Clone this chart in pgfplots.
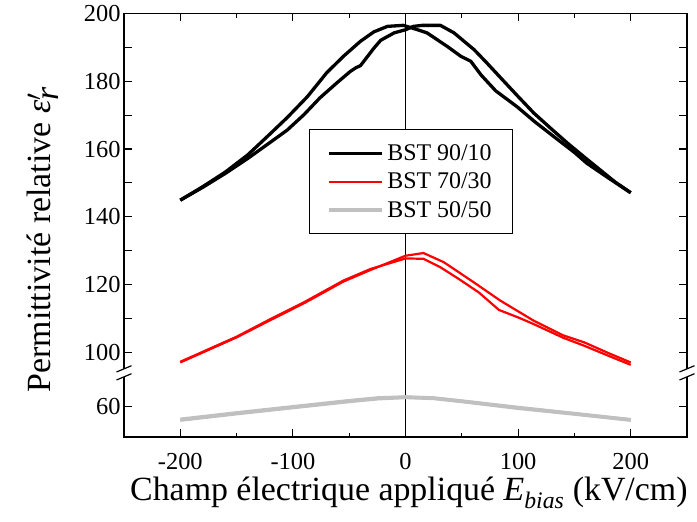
\documentclass[border=0pt]{standalone}
\usepackage{fontspec}
\IfFontExistsTF{LiberationSerif-Regular.ttf}{%
  \setmainfont{LiberationSerif}[Extension=.ttf, UprightFont=*-Regular, ItalicFont=*-Italic, BoldFont=*-Bold, BoldItalicFont=*-BoldItalic]}{%
  \setmainfont{Liberation Serif}}
\usepackage{pgfplots}
\pgfplotsset{compat=1.18}
\definecolor{grayc}{RGB}{192,192,192}
\begin{document}
\begin{tikzpicture}
\begin{axis}[
  at={(0,0)}, anchor=south west,
  scale only axis, width=563bp, height=423.5bp,
  xmin=-250, xmax=250, ymin=75, ymax=200,
  xtick={-200,-100,0,100,200}, xticklabels={-200,-100,0,100,200},
  minor xtick={-150,-50,50,150},
  ytick={84,100,110,120,130,140,150,160,170,180,190,200},
  yticklabels={60,100,,120,,140,,160,,180,,200},
  tick align=inside, tick pos=both,
  major tick length=8bp, minor tick length=4.5bp,
  every tick/.style={black, line width=1.1bp},
  axis line style={line width=1.2bp},
  tick label style={font=\fontsize{24.5}{28}\selectfont},
  xticklabel style={yshift=-13bp},
  xlabel={Champ électrique appliqué \textit{E}\textsubscript{\textit{bias}} (kV/cm)},
  ylabel={Permittivité relative \textit{ε}$^{\prime}_{\textit{r}}$},
  label style={font=\fontsize{34}{38}\selectfont},
  xlabel style={at={(axis description cs:0.506,-0.150)}, anchor=base},
  ylabel style={at={(axis description cs:-0.144,0.466)}, anchor=center},
  legend style={at={(axis description cs:0.329,0.727)}, anchor=north west,
    draw=black, line width=1bp, font=\fontsize{24}{28}\selectfont,
    inner xsep=17bp, inner ysep=12bp, row sep=5bp,
    nodes={inner xsep=4bp, inner ysep=3bp}},
  legend cell align=left,
  legend image code/.code={\draw[#1] (0bp,0bp) -- (53bp,0bp);},
]
\addplot[black, line width=1.5bp, forget plot] coordinates {(0,75) (0,200)};

% BST 90/10
\addplot[black, line width=3.3bp, line join=round] coordinates {
(-200,144.9)(-180,148.9)(-160,153.2)(-140,158.3)(-123,163.6)(-105,169.3)(-87,175.5)(-70,182.5)(-55,187.4)(-40,191.8)(-28,194.6)(-16,196.2)(-2,196.5)(7,195.6)(19,194.3)(37,190.3)(49,187.4)(58,185.9)(67,181.9)(80,177.2)(99,172.5)(115,168.0)(132,163.6)(150,159.0)(161,155.8)(180,151.5)(200,147.1)};
\addlegendentry{BST 90/10}
\addplot[black, line width=3.3bp, line join=round, forget plot] coordinates {
(-200,144.9)(-180,148.7)(-160,152.8)(-141,157.0)(-120,162.0)(-105,165.6)(-90,170.2)(-76,175.1)(-60,179.8)(-49,182.9)(-44,184.0)(-40,184.6)(-28,189.8)(-22,192.1)(-10,194.3)(0,195.2)(7,196.2)(15,196.5)(31,196.5)(43,194.3)(52,191.8)(61,189.3)(72,185.5)(84,181.2)(100,175.5)(114,170.6)(130,165.8)(144,161.7)(160,157.3)(173,153.8)(186,150.3)(200,147.1)};

% BST 70/30
\addplot[red, line width=2.2bp, line join=round] coordinates {
(-200,97.0)(-150,104.4)(-120,109.5)(-90,114.5)(-55,120.9)(-31,124.3)(0,128.5)(16,129.3)(34,126.6)(60,120.8)(84,115.3)(114,109.3)(140,105.0)(159,102.9)(180,99.8)(200,97.0)};
\addlegendentry{BST 70/30}
\addplot[red, line width=2.2bp, line join=round, forget plot] coordinates {
(-200,97.2)(-150,104.6)(-120,109.8)(-90,114.8)(-55,121.2)(-31,124.6)(0,127.7)(16,127.6)(31,125.1)(48,121.5)(65,117.7)(83,112.5)(100,110.3)(114,108.3)(140,104.3)(159,101.9)(180,99.0)(200,96.3)};

% BST 50/50 (lower panel, shifted by +24 for the broken axis)
\addplot[grayc, line width=3.6bp, line join=round, y filter/.expression={y+24}] coordinates {
(-200,56.2)(-150,58.1)(-100,59.9)(-50,61.7)(-25,62.5)(0,62.8)(25,62.5)(50,61.6)(100,59.7)(150,57.9)(200,56.1)};
\addlegendentry{BST 50/50}
\addplot[grayc, line width=3.6bp, line join=round, forget plot, y filter/.expression={y+24}] coordinates {
(-200,56.0)(-150,57.9)(-100,59.7)(-50,61.5)(-25,62.3)(0,62.7)(25,62.4)(50,61.5)(100,59.5)(150,57.8)(200,56.0)};
\end{axis}
% axis break marks
\foreach \bx in {0bp,563bp}{
  \begin{scope}[xshift=\bx]
    \fill[white] (-3bp,58.9bp) -- (3bp,61.5bp) -- (3bp,69.5bp) -- (-3bp,66.9bp) -- cycle;
    \draw[black, line width=1.2bp] (-7.5bp,57bp) -- (7.5bp,63.3bp);
    \draw[black, line width=1.2bp] (-7.5bp,65bp) -- (7.5bp,71.3bp);
  \end{scope}
}
\pgfresetboundingbox
\path[use as bounding box] (-124bp,-85bp) rectangle (573bp,437bp);
\end{tikzpicture}
\end{document}
